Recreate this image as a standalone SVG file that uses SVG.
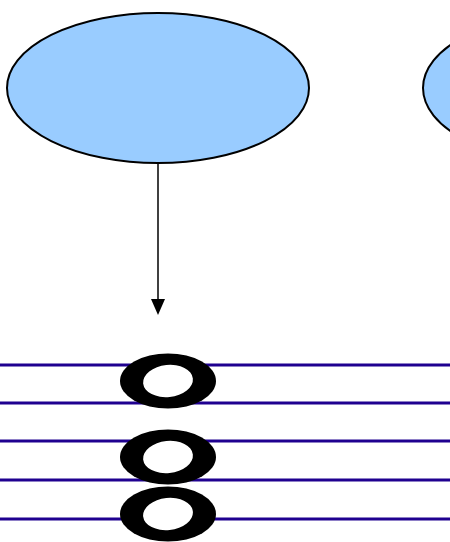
<svg xmlns="http://www.w3.org/2000/svg" width="450" height="542" viewBox="0 0 450 542">
<defs>
<style>
.node{fill:#99ccff;stroke:#000;stroke-width:2}
.staff{stroke:#1f0090;stroke-width:3}
.note{fill:#000}
.hole{fill:#fff}
.conn{stroke:#000;stroke-width:1.5;fill:none}
</style>
<marker id="arr" markerWidth="10" markerHeight="10" refX="5" refY="10" orient="auto" markerUnits="userSpaceOnUse" viewBox="0 0 10 10">
<path d="M0,0 L10,0 L5,10 Z" fill="#000" transform="rotate(-90 5 5)"/>
</marker>
</defs>
<rect width="450" height="542" fill="#fff"/>
<g id="node-left"><ellipse class="node" cx="158" cy="88" rx="151" ry="75"/></g>
<g id="node-right"><ellipse class="node" cx="574" cy="88" rx="151" ry="75"/></g>
<g id="staff">
<line class="staff" x1="0" y1="365" x2="450" y2="365"/>
<line class="staff" x1="0" y1="403" x2="450" y2="403"/>
<line class="staff" x1="0" y1="441" x2="450" y2="441"/>
<line class="staff" x1="0" y1="480" x2="450" y2="480"/>
<line class="staff" x1="0" y1="519" x2="450" y2="519"/>
</g>
<g id="note-1"><ellipse class="note" cx="168" cy="381" rx="48" ry="27.5"/><ellipse class="hole" cx="168" cy="381" rx="25" ry="16" transform="rotate(-6 168 381)"/></g>
<g id="note-2"><ellipse class="note" cx="168" cy="457" rx="48" ry="27.5"/><ellipse class="hole" cx="168" cy="457" rx="25" ry="16" transform="rotate(-6 168 457)"/></g>
<g id="note-3"><ellipse class="note" cx="168" cy="514" rx="48" ry="27.5"/><ellipse class="hole" cx="168" cy="514" rx="25" ry="16" transform="rotate(-6 168 514)"/></g>
<g id="connectors">
<line class="conn" x1="158" y1="163" x2="158" y2="300"/>
<path d="M151,299 L165,299 L158,315 Z" fill="#000"/>
</g>
</svg>
